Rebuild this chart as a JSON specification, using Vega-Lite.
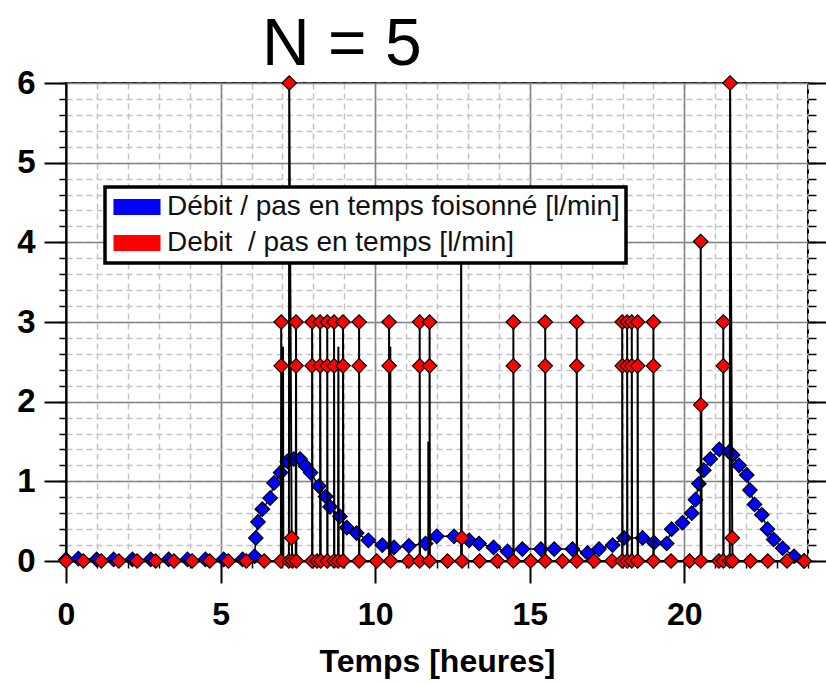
{
  "$schema": "https://vega.github.io/schema/vega-lite/v6.json",
  "width": 742,
  "height": 478,
  "autosize": {"type": "none"},
  "padding": {"left": 66, "top": 83, "right": 18, "bottom": 123},
  "background": "white",
  "config": {
    "view": {"stroke": "black", "strokeWidth": 2},
    "axis": {"labelFont": "Liberation Sans", "titleFont": "Liberation Sans", "labelColor": "black", "titleColor": "black", "tickColor": "black", "labelFlush": false},
    "legend": {"strokeWidth": 3.5}
  },
  "title": {"text": "N = 5", "font": "Liberation Sans", "fontSize": 66, "fontWeight": "normal", "color": "black", "anchor": "start", "frame": "group", "dx": 196, "dy": 66, "offset": 2, "baseline": "alphabetic"},
  "datasets": {
    "blue": [
      {"t": 0, "v": 0.02}, {"t": 0.4, "v": 0.03}, {"t": 0.99, "v": 0.02}, {"t": 1.54, "v": 0.02}, {"t": 2.15, "v": 0.02},
      {"t": 2.74, "v": 0.02}, {"t": 3.32, "v": 0.02}, {"t": 3.93, "v": 0.02}, {"t": 4.51, "v": 0.02}, {"t": 5.1, "v": 0.02},
      {"t": 5.71, "v": 0.02}, {"t": 6.1, "v": 0.06}, {"t": 6.14, "v": 0.29}, {"t": 6.21, "v": 0.49}, {"t": 6.35, "v": 0.65},
      {"t": 6.6, "v": 0.79}, {"t": 6.73, "v": 0.98}, {"t": 6.94, "v": 1.11}, {"t": 7.16, "v": 1.25}, {"t": 7.37, "v": 1.28},
      {"t": 7.57, "v": 1.28}, {"t": 7.75, "v": 1.19}, {"t": 7.91, "v": 1.11}, {"t": 8.18, "v": 0.94}, {"t": 8.4, "v": 0.81},
      {"t": 8.54, "v": 0.68}, {"t": 8.86, "v": 0.56}, {"t": 9.08, "v": 0.42}, {"t": 9.4, "v": 0.35}, {"t": 9.78, "v": 0.26},
      {"t": 10.23, "v": 0.2}, {"t": 10.61, "v": 0.17}, {"t": 11.09, "v": 0.19}, {"t": 11.63, "v": 0.22}, {"t": 11.99, "v": 0.31},
      {"t": 12.55, "v": 0.31}, {"t": 13.04, "v": 0.26}, {"t": 13.36, "v": 0.22}, {"t": 13.83, "v": 0.17}, {"t": 14.28, "v": 0.12},
      {"t": 14.76, "v": 0.15}, {"t": 15.36, "v": 0.15}, {"t": 15.79, "v": 0.15}, {"t": 16.38, "v": 0.15}, {"t": 16.87, "v": 0.1},
      {"t": 17.24, "v": 0.15}, {"t": 17.68, "v": 0.2}, {"t": 18.05, "v": 0.29}, {"t": 18.65, "v": 0.29}, {"t": 19.02, "v": 0.23},
      {"t": 19.43, "v": 0.22}, {"t": 19.59, "v": 0.4}, {"t": 19.94, "v": 0.48}, {"t": 20.24, "v": 0.6}, {"t": 20.36, "v": 0.77},
      {"t": 20.47, "v": 0.97}, {"t": 20.63, "v": 1.14}, {"t": 20.84, "v": 1.28}, {"t": 21.13, "v": 1.4}, {"t": 21.45, "v": 1.37},
      {"t": 21.56, "v": 1.33}, {"t": 21.77, "v": 1.2}, {"t": 22.02, "v": 1.08}, {"t": 22.12, "v": 0.89}, {"t": 22.27, "v": 0.71},
      {"t": 22.51, "v": 0.58}, {"t": 22.69, "v": 0.4}, {"t": 22.89, "v": 0.27}, {"t": 23.18, "v": 0.16}, {"t": 23.55, "v": 0.06},
      {"t": 23.87, "v": 0}
    ],
    "red": [
      {"i": 1, "t": 0, "v": 0, "m": 1}, {"i": 2, "t": 0.56, "v": 0, "m": 1}, {"i": 3, "t": 1.14, "v": 0, "m": 1},
      {"i": 4, "t": 1.71, "v": 0, "m": 1}, {"i": 5, "t": 2.3, "v": 0, "m": 1}, {"i": 6, "t": 2.9, "v": 0, "m": 1},
      {"i": 7, "t": 3.49, "v": 0, "m": 1}, {"i": 8, "t": 4.08, "v": 0, "m": 1}, {"i": 9, "t": 4.65, "v": 0, "m": 1},
      {"i": 10, "t": 5.25, "v": 0, "m": 1}, {"i": 11, "t": 5.83, "v": 0, "m": 1}, {"i": 12, "t": 6.41, "v": 0, "m": 1},
      {"i": 13, "t": 6.95, "v": 0, "m": 1}, {"i": 14, "t": 6.96, "v": 2.45, "m": 1}, {"i": 15, "t": 6.96, "v": 3, "m": 1},
      {"i": 16, "t": 6.98, "v": 0, "m": 0}, {"i": 17, "t": 7.02, "v": 2.69, "m": 0}, {"i": 18, "t": 7.03, "v": 0, "m": 0},
      {"i": 19, "t": 7.21, "v": 0, "m": 1}, {"i": 20, "t": 7.22, "v": 6, "m": 1}, {"i": 21, "t": 7.3, "v": 0.29, "m": 1},
      {"i": 22, "t": 7.32, "v": 0, "m": 1}, {"i": 23, "t": 7.43, "v": 0, "m": 0}, {"i": 24, "t": 7.44, "v": 2.45, "m": 1},
      {"i": 25, "t": 7.44, "v": 3, "m": 1}, {"i": 26, "t": 7.45, "v": 0, "m": 1}, {"i": 27, "t": 7.96, "v": 0, "m": 1},
      {"i": 28, "t": 7.96, "v": 2.45, "m": 1}, {"i": 29, "t": 7.96, "v": 3, "m": 1}, {"i": 30, "t": 7.97, "v": 0, "m": 0},
      {"i": 31, "t": 8.12, "v": 0, "m": 1}, {"i": 32, "t": 8.22, "v": 0, "m": 0}, {"i": 33, "t": 8.22, "v": 2.45, "m": 1},
      {"i": 34, "t": 8.22, "v": 3, "m": 1}, {"i": 35, "t": 8.24, "v": 0, "m": 1}, {"i": 36, "t": 8.45, "v": 0, "m": 1},
      {"i": 37, "t": 8.45, "v": 2.45, "m": 1}, {"i": 38, "t": 8.45, "v": 3, "m": 1}, {"i": 39, "t": 8.46, "v": 0, "m": 0},
      {"i": 40, "t": 8.67, "v": 0, "m": 1}, {"i": 41, "t": 8.67, "v": 2.45, "m": 1}, {"i": 42, "t": 8.67, "v": 3, "m": 1},
      {"i": 43, "t": 8.68, "v": 0, "m": 0}, {"i": 44, "t": 8.8, "v": 0, "m": 1}, {"i": 45, "t": 8.81, "v": 2.69, "m": 0},
      {"i": 46, "t": 8.82, "v": 0, "m": 0}, {"i": 47, "t": 8.96, "v": 0, "m": 1}, {"i": 48, "t": 8.96, "v": 2.45, "m": 1},
      {"i": 49, "t": 8.96, "v": 3, "m": 1}, {"i": 50, "t": 8.97, "v": 0, "m": 0}, {"i": 51, "t": 9.48, "v": 0, "m": 1},
      {"i": 52, "t": 9.48, "v": 2.45, "m": 1}, {"i": 53, "t": 9.48, "v": 3, "m": 1}, {"i": 54, "t": 9.49, "v": 0, "m": 0},
      {"i": 55, "t": 10.05, "v": 0, "m": 1}, {"i": 56, "t": 10.45, "v": 0, "m": 0}, {"i": 57, "t": 10.45, "v": 2.45, "m": 1},
      {"i": 58, "t": 10.45, "v": 3, "m": 1}, {"i": 59, "t": 10.47, "v": 0, "m": 0}, {"i": 60, "t": 10.49, "v": 2.69, "m": 0},
      {"i": 61, "t": 10.5, "v": 0, "m": 1}, {"i": 62, "t": 11.09, "v": 0, "m": 1}, {"i": 63, "t": 11.44, "v": 0, "m": 1},
      {"i": 64, "t": 11.44, "v": 2.45, "m": 1}, {"i": 65, "t": 11.44, "v": 3, "m": 1}, {"i": 66, "t": 11.45, "v": 0, "m": 0},
      {"i": 67, "t": 11.72, "v": 0, "m": 0}, {"i": 68, "t": 11.72, "v": 1.5, "m": 0}, {"i": 69, "t": 11.74, "v": 0, "m": 0},
      {"i": 70, "t": 11.76, "v": 0, "m": 1}, {"i": 71, "t": 11.76, "v": 2.45, "m": 1}, {"i": 72, "t": 11.76, "v": 3, "m": 1},
      {"i": 73, "t": 11.77, "v": 0, "m": 0}, {"i": 74, "t": 12.34, "v": 0, "m": 1}, {"i": 75, "t": 12.78, "v": 0, "m": 0},
      {"i": 76, "t": 12.78, "v": 4.3, "m": 1}, {"i": 77, "t": 12.8, "v": 0.29, "m": 1}, {"i": 78, "t": 12.81, "v": 0, "m": 1},
      {"i": 79, "t": 13.38, "v": 0, "m": 1}, {"i": 80, "t": 13.95, "v": 0, "m": 1}, {"i": 81, "t": 14.47, "v": 0, "m": 1},
      {"i": 82, "t": 14.47, "v": 2.45, "m": 1}, {"i": 83, "t": 14.47, "v": 3, "m": 1}, {"i": 84, "t": 14.48, "v": 0, "m": 0},
      {"i": 85, "t": 15.03, "v": 0, "m": 1}, {"i": 86, "t": 15.5, "v": 0, "m": 1}, {"i": 87, "t": 15.5, "v": 2.45, "m": 1},
      {"i": 88, "t": 15.5, "v": 3, "m": 1}, {"i": 89, "t": 15.51, "v": 0, "m": 0}, {"i": 90, "t": 16.06, "v": 0, "m": 1},
      {"i": 91, "t": 16.52, "v": 0, "m": 1}, {"i": 92, "t": 16.52, "v": 2.45, "m": 1}, {"i": 93, "t": 16.52, "v": 3, "m": 1},
      {"i": 94, "t": 16.53, "v": 0, "m": 0}, {"i": 95, "t": 17.08, "v": 0, "m": 1}, {"i": 96, "t": 17.66, "v": 0, "m": 1},
      {"i": 97, "t": 17.99, "v": 0, "m": 1}, {"i": 98, "t": 17.99, "v": 2.45, "m": 1}, {"i": 99, "t": 17.99, "v": 3, "m": 1},
      {"i": 100, "t": 18.0, "v": 0, "m": 0}, {"i": 101, "t": 18.15, "v": 0, "m": 1}, {"i": 102, "t": 18.15, "v": 2.45, "m": 1},
      {"i": 103, "t": 18.15, "v": 3, "m": 1}, {"i": 104, "t": 18.16, "v": 0, "m": 0}, {"i": 105, "t": 18.3, "v": 0, "m": 1},
      {"i": 106, "t": 18.3, "v": 2.45, "m": 1}, {"i": 107, "t": 18.3, "v": 3, "m": 1}, {"i": 108, "t": 18.31, "v": 0, "m": 0},
      {"i": 109, "t": 18.49, "v": 0, "m": 1}, {"i": 110, "t": 18.49, "v": 2.45, "m": 1}, {"i": 111, "t": 18.49, "v": 3, "m": 1},
      {"i": 112, "t": 18.5, "v": 0, "m": 0}, {"i": 113, "t": 19.0, "v": 0, "m": 1}, {"i": 114, "t": 19.0, "v": 2.45, "m": 1},
      {"i": 115, "t": 19.0, "v": 3, "m": 1}, {"i": 116, "t": 19.01, "v": 0, "m": 0}, {"i": 117, "t": 19.57, "v": 0, "m": 1},
      {"i": 118, "t": 20.17, "v": 0, "m": 1}, {"i": 119, "t": 20.53, "v": 0, "m": 1}, {"i": 120, "t": 20.53, "v": 1.96, "m": 1},
      {"i": 121, "t": 20.53, "v": 4.01, "m": 1}, {"i": 122, "t": 20.54, "v": 0, "m": 0}, {"i": 123, "t": 20.55, "v": 1.96, "m": 0},
      {"i": 124, "t": 20.56, "v": 0, "m": 0}, {"i": 125, "t": 21.12, "v": 0, "m": 1}, {"i": 126, "t": 21.26, "v": 0, "m": 1},
      {"i": 127, "t": 21.26, "v": 2.45, "m": 1}, {"i": 128, "t": 21.26, "v": 3, "m": 1}, {"i": 129, "t": 21.27, "v": 0, "m": 0},
      {"i": 130, "t": 21.47, "v": 0, "m": 1}, {"i": 131, "t": 21.48, "v": 6, "m": 1}, {"i": 132, "t": 21.55, "v": 0.29, "m": 1},
      {"i": 133, "t": 21.56, "v": 0, "m": 1}, {"i": 134, "t": 22.14, "v": 0, "m": 1}, {"i": 135, "t": 22.7, "v": 0, "m": 1},
      {"i": 136, "t": 23.32, "v": 0, "m": 1}, {"i": 137, "t": 23.88, "v": 0, "m": 1}
    ]
  },
  "layer": [
    {
      "data": {"name": "blue"},
      "mark": {"type": "line", "color": "black", "strokeWidth": 1.5},
      "encoding": {
        "x": {"field": "t", "type": "quantitative", "scale": {"domain": [0, 24], "nice": false, "zero": false},
          "axis": {"orient": "bottom", "values": [0,1,2,3,4,5,6,7,8,9,10,11,12,13,14,15,16,17,18,19,20,21,22,23,24], "grid": true, "gridColor": "#c4c4c4", "gridDash": [6, 4], "gridWidth": 1.5, "labels": false, "domain": false, "ticks": true, "tickSize": 7, "tickWidth": 1.5, "title": null}},
        "y": {"field": "v", "type": "quantitative", "scale": {"domain": [0, 6], "nice": false},
          "axis": {"orient": "left", "values": [0,0.2,0.4,0.6,0.8,1,1.2,1.4,1.6,1.8,2,2.2,2.4,2.6,2.8,3,3.2,3.4,3.6,3.8,4,4.2,4.4,4.6,4.8,5,5.2,5.4,5.6,5.8,6], "grid": true, "gridColor": "#c4c4c4", "gridDash": [6, 4], "gridWidth": 1.5, "labels": false, "domain": false, "ticks": true, "tickSize": 7, "tickWidth": 1.5, "title": null}}
      }
    },
    {
      "data": {"name": "blue"},
      "mark": {"type": "point", "shape": "diamond", "filled": true, "size": 210, "stroke": "black", "strokeWidth": 1.2, "opacity": 1},
      "encoding": {
        "x": {"field": "t", "type": "quantitative", "scale": {"domain": [0, 24], "nice": false, "zero": false},
          "axis": {"orient": "bottom", "values": [0, 5, 10, 15, 20], "grid": true, "gridColor": "#858585", "gridWidth": 1.6, "domain": true, "domainColor": "black", "domainWidth": 2, "ticks": true, "tickSize": 22, "tickWidth": 2, "labelFontSize": 32, "labelFontWeight": "bold", "labelPadding": 16, "title": "Temps [heures]", "titleFontSize": 32, "titleFontWeight": "bold", "titlePadding": 16}},
        "y": {"field": "v", "type": "quantitative", "scale": {"domain": [0, 6], "nice": false},
          "axis": {"orient": "left", "values": [0, 1, 2, 3, 4, 5, 6], "grid": true, "gridColor": "#858585", "gridWidth": 1.6, "domain": true, "domainColor": "black", "domainWidth": 2, "ticks": true, "tickSize": 22, "tickWidth": 2, "labelFontSize": 33, "labelFontWeight": "bold", "labelPadding": 9, "title": null}},
        "fill": {"datum": "Débit / pas en temps foisonné [l/min]", "type": "nominal",
          "scale": {"domain": ["Débit / pas en temps foisonné [l/min]", "Debit\u00a0 / pas en temps [l/min]"], "range": ["#0000ff", "#ff0000"]},
          "legend": {"orient": "none", "legendX": 39, "legendY": 104, "title": null, "symbolType": "M-1.68,-0.57H1.68V0.57H-1.68Z", "symbolSize": 784, "symbolStrokeWidth": 0, "symbolOpacity": 1, "symbolOffset": 12, "labelOffset": 16, "labelFont": "Liberation Sans", "labelFontSize": 28, "labelColor": "#111111", "labelLimit": 1000, "padding": 6, "rowPadding": 8, "strokeColor": "black", "fillColor": "white", "cornerRadius": 0,
            "encode": {"legend": {"update": {"strokeWidth": {"value": 3.5}}}}}}
      }
    },
    {
      "data": {"name": "red"},
      "mark": {"type": "line", "color": "black", "strokeWidth": 2},
      "encoding": {
        "x": {"field": "t", "type": "quantitative", "axis": null},
        "y": {"field": "v", "type": "quantitative",
          "axis": {"orient": "right", "values": [0,0.2,0.4,0.6,0.8,1,1.2,1.4,1.6,1.8,2,2.2,2.4,2.6,2.8,3,3.2,3.4,3.6,3.8,4,4.2,4.4,4.6,4.8,5,5.2,5.4,5.6,5.8,6], "grid": false, "labels": false, "domain": false, "ticks": true, "tickSize": 8, "tickWidth": 1.5, "title": null}},
        "order": {"field": "i", "type": "quantitative"}
      }
    },
    {
      "data": {"name": "red"},
      "transform": [{"filter": "datum.m == 1"}],
      "mark": {"type": "point", "shape": "diamond", "filled": true, "size": 210, "stroke": "black", "strokeWidth": 1.2, "opacity": 1},
      "encoding": {
        "x": {"field": "t", "type": "quantitative", "axis": null},
        "y": {"field": "v", "type": "quantitative",
          "axis": {"orient": "right", "values": [0, 1, 2, 3, 4, 5, 6], "grid": false, "labels": false, "domain": false, "ticks": true, "tickSize": 18, "tickWidth": 2, "title": null}},
        "fill": {"datum": "Debit\u00a0 / pas en temps [l/min]", "type": "nominal",
          "scale": {"domain": ["Débit / pas en temps foisonné [l/min]", "Debit\u00a0 / pas en temps [l/min]"], "range": ["#0000ff", "#ff0000"]}}
      }
    }
  ],
  "resolve": {"axis": {"x": "independent", "y": "independent"}}
}
